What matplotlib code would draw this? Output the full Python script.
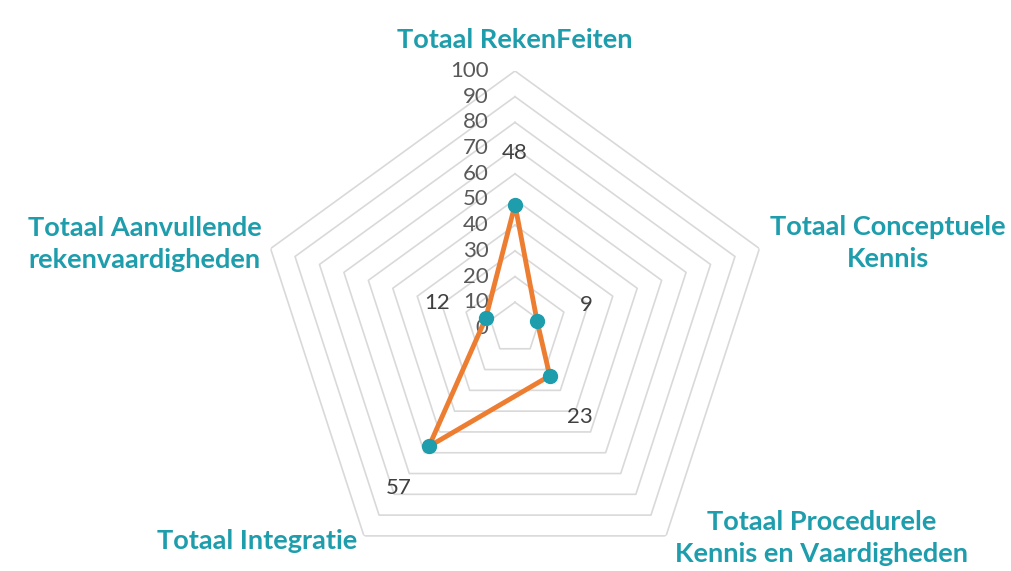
#!/usr/bin/env python3

import numpy as np
import matplotlib
matplotlib.use('Agg')
import matplotlib.pyplot as plt

categories = ['Totaal RekenFeiten', 'Totaal Conceptuele\nKennis',
              'Totaal Procedurele\nKennis en Vaardigheden', 'Totaal Integratie',
              'Totaal Aanvullende\nrekenvaardigheden']
values = [48, 9, 23, 57, 12]
ticks = [0, 10, 20, 30, 40, 50, 60, 70, 80, 90, 100]

# where the category labels sit (figure fraction, centre of text)
label_pos = [(0.509, 0.930), (0.878, 0.574), (0.813, 0.058),
             (0.254, 0.053), (0.143, 0.572)]

teal = '#1E9DAC'
orange = '#ED7D31'
grid_col = '#D9D9D9'
text_col = '#595959'

plt.rcParams['font.family'] = ['Lato', 'DejaVu Sans']

fig = plt.figure(figsize=(10.11, 5.71), dpi=100)
ax = fig.add_axes([0.2552, -0.0245, 0.5084, 0.9002], projection='polar')
ax.set_theta_zero_location('N')
ax.set_theta_direction(-1)
ax.set_ylim(0, 100)
ax.axis('off')

n = len(categories)
angles = np.linspace(0, 2 * np.pi, n, endpoint=False)
closed = np.append(angles, angles[0])

# pentagon gridlines
for t in ticks[1:]:
    ax.plot(closed, [t] * (n + 1), color=grid_col, lw=1.2, zorder=1)

# value axis labels
for t in ticks:
    ax.annotate(str(t), xy=(0, t), xytext=(-19, 0), textcoords='offset points',
                ha='right', va='center', fontsize=16, color=text_col, zorder=2)

# data series
vals = np.append(values, values[0])
ax.plot(closed, vals, color=orange, lw=3.5, zorder=3)
ax.plot(angles, values, 'o', color=teal, markersize=10, zorder=4)

# data labels
for a, v in zip(angles, values):
    ax.text(a, v + 20, str(v), ha='center', va='center', fontsize=16,
            color='#404040', zorder=5)

# category labels
for lab, (x, y) in zip(categories, label_pos):
    fig.text(x, y, lab, ha='center', va='center', fontsize=19.5, fontweight='bold',
             color=teal, linespacing=1.4)

fig.savefig('out.png', dpi=100)
